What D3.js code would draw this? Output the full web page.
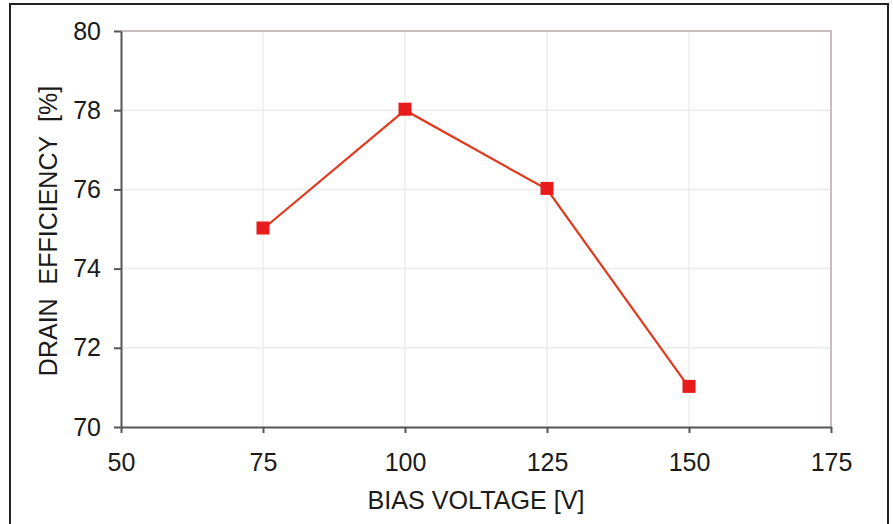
<!DOCTYPE html>
<html><head><meta charset="utf-8">
<script src="https://cdn.jsdelivr.net/npm/d3@7"></script>
<style>body{margin:0;background:#fff}svg{display:block}text{font-family:"Liberation Sans",Arial,sans-serif}</style>
</head><body><svg id="c" width="893" height="524"></svg>
<script>
const biasVoltage = [75, 100, 125, 150];
const drainEfficiency = [75, 78, 76, 71];
const xTicks = [50, 75, 100, 125, 150, 175];
const yTicks = [70, 72, 74, 76, 78, 80];
const xTitle = "BIAS VOLTAGE [V]";
const yTitle = "DRAIN\u00a0 EFFICIENCY\u00a0 [%]";

const svg = d3.select("#c");
const L = 121, R = 831, T = 31, B = 427;
const x = d3.scaleLinear().domain([50, 175]).range([L, R]);
const y = d3.scaleLinear().domain([70, 80]).range([B, T]);

// outer frame
svg.append("path").attr("d", `M10,530 V4 H888 V530`).attr("fill", "none").attr("stroke", "#222").attr("stroke-width", 2);

// gridlines
svg.append("g").selectAll("line").data(yTicks.filter(d => d !== 70 && d !== 80)).join("line")
  .attr("x1", L).attr("x2", R).attr("y1", d => y(d)).attr("y2", d => y(d))
  .attr("stroke", "#ececec").attr("stroke-width", 1.5);
svg.append("g").selectAll("line").data(xTicks.filter(d => d !== 50 && d !== 175)).join("line")
  .attr("y1", T).attr("y2", B).attr("x1", d => x(d)).attr("x2", d => x(d))
  .attr("stroke", "#ececec").attr("stroke-width", 1.5);

// top and right border
svg.append("path").attr("d", `M${L},${T} H${R} V${B}`).attr("fill", "none").attr("stroke", "#c9bebe").attr("stroke-width", 2);

// axes
const xAxis = svg.append("g").attr("transform", `translate(0,${B})`)
  .call(d3.axisBottom(x).tickValues(xTicks).tickSize(6).tickPadding(20).tickSizeOuter(0));
const yAxis = svg.append("g").attr("transform", `translate(${L},0)`)
  .call(d3.axisLeft(y).tickValues(yTicks).tickSize(7).tickPadding(13).tickSizeOuter(0));
[xAxis, yAxis].forEach(g => {
  g.select(".domain").attr("stroke", "#555").attr("stroke-width", 2);
  g.selectAll(".tick line").attr("stroke", "#555").attr("stroke-width", 2);
  g.selectAll(".tick text").attr("fill", "#1a1a1a").style("font-size", "25px");
});

// line
const pts = biasVoltage.map((v, i) => [v, drainEfficiency[i]]);
svg.append("path").datum(pts)
  .attr("d", d3.line().x(d => x(d[0])).y(d => y(d[1])))
  .attr("fill", "none").attr("stroke", "#e2391e").attr("stroke-width", 2.2);
svg.append("g").selectAll("rect").data(pts).join("rect")
  .attr("x", d => x(d[0]) - 6.5).attr("y", d => y(d[1]) - 7.5)
  .attr("width", 13).attr("height", 13).attr("fill", "#e81a1c");

// titles
svg.append("text").attr("x", 476).attr("y", 509).attr("text-anchor", "middle")
  .attr("fill", "#1a1a1a").style("font-size", "25px").attr("textLength", 217).attr("lengthAdjust", "spacingAndGlyphs").text(xTitle);
svg.append("text").attr("transform", "translate(57,231) rotate(-90)").attr("text-anchor", "middle")
  .attr("fill", "#1a1a1a").style("font-size", "25px").text(yTitle);
</script></body></html>
